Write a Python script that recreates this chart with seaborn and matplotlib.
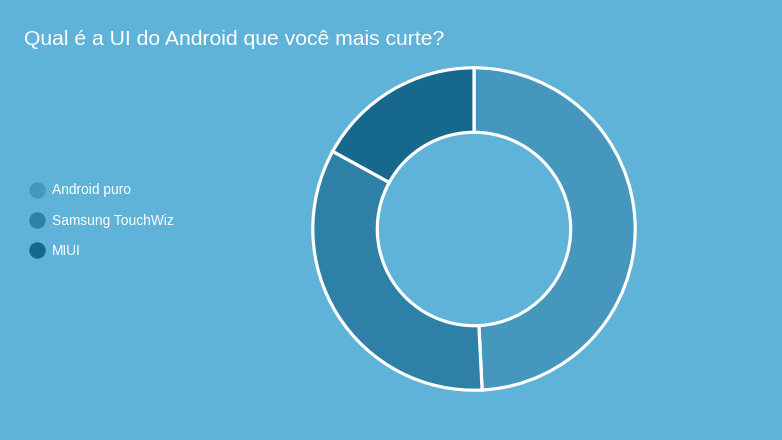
import matplotlib
matplotlib.use("Agg")
import matplotlib.pyplot as plt
from matplotlib.lines import Line2D
import seaborn as sns

# survey results (percent)
labels = ["Android puro", "Samsung TouchWiz", "MIUI"]
values = [49.2, 33.8, 17.0]
title = "Qual é a UI do Android que você mais curte?"

bg = "#5fb3d9"
colors = ["#4597bd", "#2e80a6", "#16698d"]

sns.set_theme(style="white")
plt.rcParams["font.family"] = ["Liberation Sans", "DejaVu Sans"]

fig = plt.figure(figsize=(7.82, 4.40), dpi=100)
fig.patch.set_facecolor(bg)

# donut axes: centre at (474, 229) px, radius 162 px
ax = fig.add_axes([312 / 782, 49 / 440, 324 / 782, 324 / 440])
ax.set_facecolor(bg)
ax.pie(values, colors=colors, startangle=90, counterclock=False,
       radius=1.0,
       wedgeprops=dict(width=0.4, edgecolor="white", linewidth=2.3,
                       clip_on=False))
ax.set_xlim(-1.005, 1.005)
ax.set_ylim(-1.005, 1.005)
ax.set_aspect("equal")
ax.axis("off")

fig.text(24 / 782, 1 - 45 / 440, title, color="white", fontsize=15.2,
         ha="left", va="baseline")

handles = [Line2D([], [], linestyle="none", marker="o", markersize=10.8,
                  markerfacecolor=c, markeredgecolor=c) for c in colors]
leg = fig.legend(handles, labels, loc="center left",
                 bbox_to_anchor=(30.3 / 782, 1 - 220.7 / 440),
                 frameon=False, fontsize=9.9, handlelength=1.0,
                 handletextpad=0.55, labelspacing=1.18,
                 borderpad=0, borderaxespad=0)
for t in leg.get_texts():
    t.set_color("white")

fig.savefig("out.png", dpi=100, facecolor=bg)
